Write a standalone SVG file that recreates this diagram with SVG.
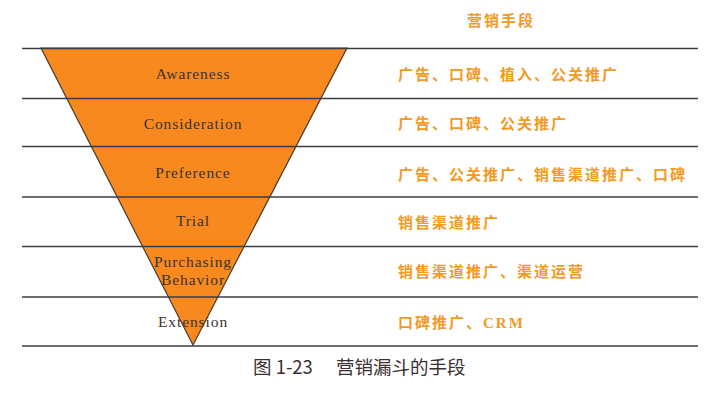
<svg xmlns="http://www.w3.org/2000/svg" width="721" height="415" viewBox="0 0 721 415">
<style>
.line{stroke:#3c3c44;stroke-width:1.6}
.stage{font-family:"Liberation Serif",serif;font-size:15.5px;fill:#3a3430;text-anchor:middle;letter-spacing:0.9px}
.means{font-family:"Liberation Sans","Noto Sans CJK SC",sans-serif;font-size:15px;fill:#f39a25;font-weight:bold;letter-spacing:2px}
.cap{font-family:"Noto Sans CJK SC",sans-serif;font-size:18.5px;fill:#3a3030}
</style>
<rect width="721" height="415" fill="#ffffff"/>
<g id="funnel">
<polygon points="41,48 347,48 193,345" fill="#f7891f" stroke="#4a3a30" stroke-width="1.2"/>
</g>
<g id="connectors">
<line class="line" x1="22" y1="48.5" x2="698" y2="48.5"/>
<line class="line" x1="22" y1="98.5" x2="698" y2="98.5"/>
<line class="line" x1="22" y1="146.5" x2="698" y2="146.5"/>
<line class="line" x1="22" y1="197" x2="698" y2="197"/>
<line class="line" x1="22" y1="246.5" x2="698" y2="246.5"/>
<line class="line" x1="22" y1="297" x2="698" y2="297"/>
<line class="line" x1="22" y1="346" x2="698" y2="346"/>
</g>
<g id="title"><text class="means" x="467" y="26">营销手段</text></g>
<g id="row1"><text class="stage" x="193" y="79">Awareness</text><text class="means" x="398" y="80">广告、口碑、植入、公关推广</text></g>
<g id="row2"><text class="stage" x="193" y="129">Consideration</text><text class="means" x="398" y="129">广告、口碑、公关推广</text></g>
<g id="row3"><text class="stage" x="193" y="178">Preference</text><text class="means" x="398" y="180">广告、公关推广、销售渠道推广、口碑</text></g>
<g id="row4"><text class="stage" x="193" y="226">Trial</text><text class="means" x="398" y="228">销售渠道推广</text></g>
<g id="row5"><text class="stage" x="193" y="267">Purchasing</text><text class="stage" x="193" y="285">Behavior</text><text class="means" x="398" y="277">销售渠道推广、渠道运营</text></g>
<g id="row6"><text class="stage" x="193" y="327">Extension</text><text class="means" x="398" y="328">口碑推广、<tspan font-family="Liberation Serif,serif">CRM</tspan></text></g>
<g id="caption"><text class="cap" x="253" y="374">图 1-23</text><text class="cap" x="336" y="374">营销漏斗的手段</text></g>
</svg>
